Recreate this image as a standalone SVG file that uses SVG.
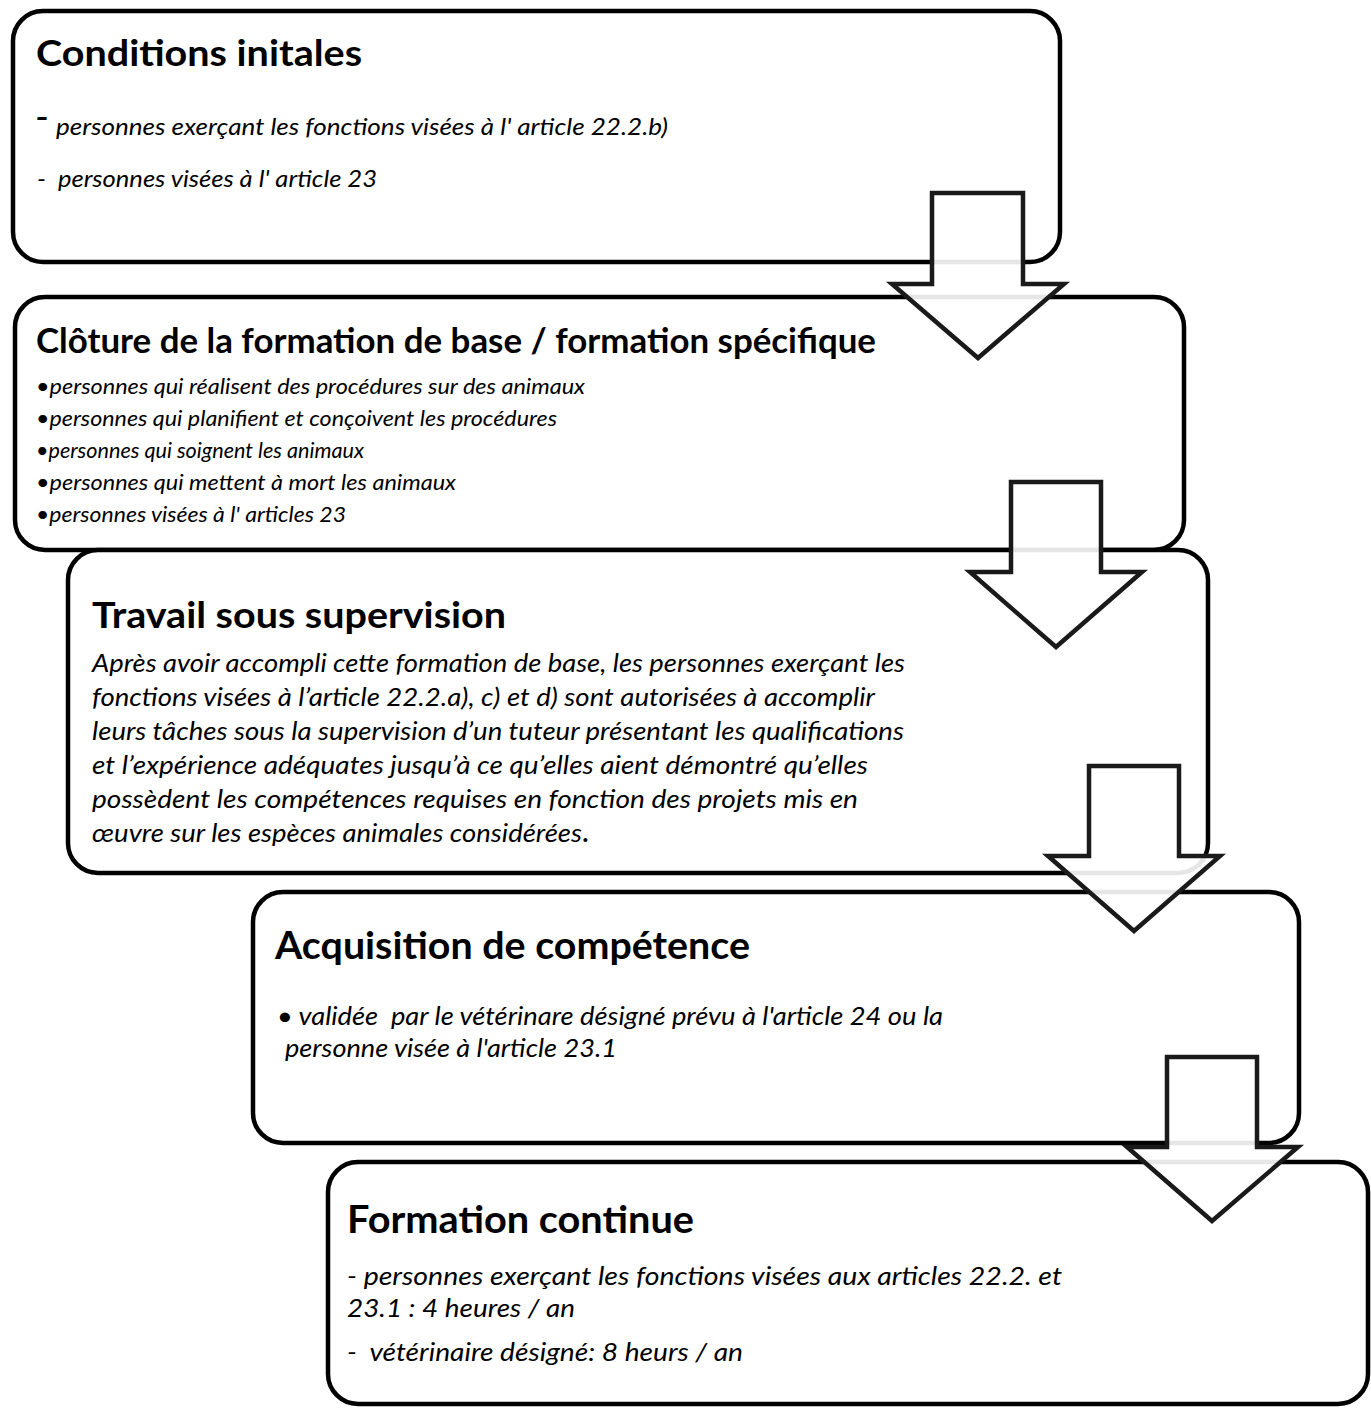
<svg xmlns="http://www.w3.org/2000/svg" width="1371" height="1409" viewBox="0 0 1371 1409">
<style>
.box{fill:#ffffff;stroke:#000000;stroke-width:4.5}
.arrow{fill:#ffffff;fill-opacity:0.9;stroke:#1a1a1a;stroke-width:4.5;stroke-linejoin:miter}
.t{font-family:Lato,"Open Sans","Liberation Sans",sans-serif;font-weight:bold;fill:#000;white-space:pre}
.b{font-family:Lato,"Open Sans","Liberation Sans",sans-serif;font-style:italic;fill:#000;white-space:pre}
</style>
<rect width="1371" height="1409" fill="#ffffff"/>
<g id="node1">
<rect class="box" x="13" y="11" width="1047" height="251" rx="30"/>
<text class="t" x="36" y="66" font-size="37" textLength="326" lengthAdjust="spacingAndGlyphs">Conditions initales</text>
<text class="b" x="35" y="131" font-size="40" font-style="normal">-</text>
<text class="b" x="56" y="135" font-size="23" textLength="612" lengthAdjust="spacingAndGlyphs">personnes exerçant les fonctions visées à l' article 22.2.b)</text>
<text class="b" x="37" y="187" font-size="23" textLength="340" lengthAdjust="spacingAndGlyphs">-  personnes visées à l' article 23</text>
</g>
<g id="node2">
<rect class="box" x="15" y="297" width="1169" height="253" rx="30"/>
<text class="t" x="36" y="353" font-size="34" textLength="840" lengthAdjust="spacingAndGlyphs">Clôture de la formation de base / formation spécifique</text>
<text class="b" x="36" y="394" font-size="22" textLength="549" lengthAdjust="spacingAndGlyphs">•personnes qui réalisent des procédures sur des animaux</text>
<text class="b" x="36" y="426" font-size="22" textLength="521" lengthAdjust="spacingAndGlyphs">•personnes qui planifient et conçoivent les procédures</text>
<text class="b" x="36" y="458" font-size="22" textLength="328" lengthAdjust="spacingAndGlyphs">•personnes qui soignent les animaux</text>
<text class="b" x="36" y="490" font-size="22" textLength="420" lengthAdjust="spacingAndGlyphs">•personnes qui mettent à mort les animaux</text>
<text class="b" x="36" y="522" font-size="22" textLength="310" lengthAdjust="spacingAndGlyphs">•personnes visées à l' articles 23</text>
</g>
<g id="node3">
<rect class="box" x="68" y="550" width="1140" height="323" rx="30"/>
<text class="t" x="92" y="628" font-size="37" textLength="414" lengthAdjust="spacingAndGlyphs">Travail sous supervision</text>
<text class="b" x="92" y="672" font-size="26" textLength="813" lengthAdjust="spacingAndGlyphs">Après avoir accompli cette formation de base, les personnes exerçant les</text>
<text class="b" x="92" y="706" font-size="26" textLength="783" lengthAdjust="spacingAndGlyphs">fonctions visées à l’article 22.2.a), c) et d) sont autorisées à accomplir</text>
<text class="b" x="92" y="740" font-size="26" textLength="812" lengthAdjust="spacingAndGlyphs">leurs tâches sous la supervision d’un tuteur présentant les qualifications</text>
<text class="b" x="92" y="774" font-size="26" textLength="776" lengthAdjust="spacingAndGlyphs">et l’expérience adéquates jusqu’à ce qu’elles aient démontré qu’elles</text>
<text class="b" x="92" y="808" font-size="26" textLength="766" lengthAdjust="spacingAndGlyphs">possèdent les compétences requises en fonction des projets mis en</text>
<text class="b" x="92" y="842" font-size="26" textLength="490" lengthAdjust="spacingAndGlyphs">œuvre sur les espèces animales considérées</text>
<text class="b" x="583" y="842" font-size="26" font-style="normal" font-weight="bold">.</text>
</g>
<g id="node4">
<rect class="box" x="253" y="892" width="1046" height="251" rx="30"/>
<text class="t" x="275" y="959" font-size="38" textLength="475" lengthAdjust="spacingAndGlyphs">Acquisition de compétence</text>
<text class="b" x="277" y="1025" font-size="25" textLength="666" lengthAdjust="spacingAndGlyphs">• validée  par le vétérinare désigné prévu à l'article 24 ou la</text>
<text class="b" x="285" y="1057" font-size="25" textLength="332" lengthAdjust="spacingAndGlyphs">personne visée à l'article 23.1</text>
</g>
<g id="node5">
<rect class="box" x="328" y="1162" width="1040" height="242" rx="30"/>
<text class="t" x="347" y="1233" font-size="38" textLength="347" lengthAdjust="spacingAndGlyphs">Formation continue</text>
<text class="b" x="347" y="1285" font-size="26" textLength="715" lengthAdjust="spacingAndGlyphs">- personnes exerçant les fonctions visées aux articles 22.2. et</text>
<text class="b" x="347" y="1317" font-size="26" textLength="228" lengthAdjust="spacingAndGlyphs">23.1 : 4 heures / an</text>
<text class="b" x="347" y="1361" font-size="26" textLength="396" lengthAdjust="spacingAndGlyphs">-  vétérinaire désigné: 8 heurs / an</text>
</g>
<g id="connectors">
<polygon class="arrow" points="932,193 1023,193 1023,284 1064,284 978,358 892,284 932,284"/>
<polygon class="arrow" points="1011,482 1101,482 1101,572 1142,572 1056,647 970,572 1011,572"/>
<polygon class="arrow" points="1089,766 1179,766 1179,856 1220,856 1134,931 1048,856 1089,856"/>
<polygon class="arrow" points="1167,1057 1257,1057 1257,1147 1298,1147 1212,1221 1127,1147 1167,1147"/>
</g>
</svg>
